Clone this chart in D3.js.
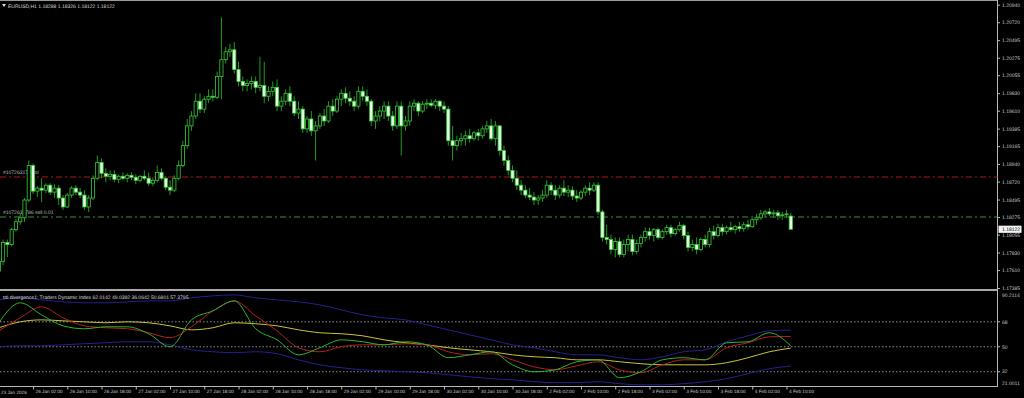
<!DOCTYPE html>
<html>
<head>
<meta charset="utf-8">
<script src="https://cdn.jsdelivr.net/npm/d3@7"></script>
<style>
html, body { margin: 0; padding: 0; background: #000; }
svg { display: block; }
text { font-family: "Liberation Sans", Arial, sans-serif; text-rendering: geometricPrecision; }
</style>
</head>
<body>
<div id="chart"></div>
<script>
// EURUSD H1 candles, [open, high, low, close]
var candles = [
[1.17596,1.17770,1.17547,1.17720],[1.17720,1.17993,1.17671,1.17956],[1.17956,1.17993,1.17770,1.17931],[1.17931,1.18142,1.17906,1.18117],
[1.18117,1.18253,1.18092,1.18216],[1.18216,1.18315,1.18179,1.18266],[1.18266,1.18514,1.18216,1.18489],[1.18489,1.18985,1.18464,1.18923],
[1.18923,1.18948,1.18563,1.18601],[1.18601,1.18663,1.18526,1.18638],[1.18638,1.18762,1.18464,1.18613],[1.18613,1.18700,1.18576,1.18675],
[1.18675,1.18700,1.18551,1.18588],[1.18588,1.18687,1.18514,1.18638],[1.18638,1.18675,1.18427,1.18514],[1.18514,1.18551,1.18365,1.18402],
[1.18402,1.18576,1.18390,1.18551],[1.18551,1.18663,1.18514,1.18638],[1.18638,1.18675,1.18551,1.18588],[1.18588,1.18638,1.18514,1.18551],
[1.18551,1.18613,1.18365,1.18402],[1.18402,1.18551,1.18340,1.18514],[1.18514,1.18799,1.18489,1.18762],[1.18762,1.19047,1.18737,1.18960],
[1.18960,1.19010,1.18762,1.18824],[1.18824,1.18886,1.18712,1.18787],[1.18787,1.18861,1.18737,1.18811],[1.18811,1.18861,1.18712,1.18749],
[1.18749,1.18811,1.18700,1.18787],[1.18787,1.18836,1.18737,1.18762],[1.18762,1.18824,1.18712,1.18799],[1.18799,1.18836,1.18737,1.18774],
[1.18774,1.18811,1.18687,1.18737],[1.18737,1.18799,1.18712,1.18787],[1.18787,1.18861,1.18737,1.18762],[1.18762,1.18836,1.18663,1.18700],
[1.18700,1.18774,1.18663,1.18737],[1.18737,1.18923,1.18712,1.18836],[1.18836,1.18886,1.18737,1.18762],[1.18762,1.18787,1.18613,1.18650],
[1.18650,1.18737,1.18551,1.18613],[1.18613,1.18799,1.18588,1.18762],[1.18762,1.18985,1.18737,1.18923],[1.18923,1.19233,1.18898,1.19171],
[1.19171,1.19506,1.19134,1.19419],[1.19419,1.19605,1.19357,1.19543],[1.19543,1.19828,1.19506,1.19729],[1.19729,1.19828,1.19580,1.19630],
[1.19630,1.19791,1.19580,1.19754],[1.19754,1.19878,1.19704,1.19791],[1.19791,1.19878,1.19729,1.19779],[1.19779,1.20101,1.19754,1.20039],
[1.20039,1.20783,1.19754,1.20250],[1.20250,1.20411,1.20200,1.20349],[1.20349,1.20448,1.20287,1.20374],[1.20374,1.20473,1.20076,1.20126],
[1.20126,1.20225,1.19915,1.19977],[1.19977,1.20039,1.19853,1.19927],[1.19927,1.20002,1.19853,1.19952],[1.19952,1.20039,1.19878,1.19977],
[1.19977,1.20039,1.19828,1.19903],[1.19903,1.20287,1.19853,1.19927],[1.19927,1.20225,1.19704,1.19791],[1.19791,1.19915,1.19729,1.19853],
[1.19853,1.19977,1.19791,1.19903],[1.19903,1.20002,1.19605,1.19667],[1.19667,1.19791,1.19605,1.19729],[1.19729,1.19878,1.19679,1.19828],
[1.19828,1.19915,1.19667,1.19729],[1.19729,1.19791,1.19543,1.19580],[1.19580,1.19729,1.19506,1.19630],[1.19630,1.19667,1.19332,1.19382],
[1.19382,1.19543,1.19332,1.19506],[1.19506,1.19605,1.19295,1.19357],[1.19357,1.19481,1.18985,1.19419],[1.19419,1.19580,1.19382,1.19543],
[1.19543,1.19630,1.19419,1.19481],[1.19481,1.19729,1.19456,1.19667],[1.19667,1.19754,1.19543,1.19605],[1.19605,1.19791,1.19580,1.19754],
[1.19754,1.19878,1.19667,1.19828],[1.19828,1.19903,1.19704,1.19766],[1.19766,1.19853,1.19667,1.19729],[1.19729,1.19791,1.19605,1.19667],
[1.19667,1.19915,1.19630,1.19853],[1.19853,1.19915,1.19729,1.19791],[1.19791,1.19878,1.19667,1.19729],[1.19729,1.19754,1.19419,1.19481],
[1.19481,1.19605,1.19382,1.19543],[1.19543,1.19667,1.19481,1.19605],[1.19605,1.19729,1.19506,1.19667],[1.19667,1.19729,1.19481,1.19543],
[1.19543,1.19605,1.19357,1.19419],[1.19419,1.19729,1.19382,1.19667],[1.19667,1.19729,1.19047,1.19419],[1.19419,1.19543,1.19357,1.19481],
[1.19481,1.19729,1.19419,1.19667],[1.19667,1.19754,1.19605,1.19704],[1.19704,1.19729,1.19543,1.19605],[1.19605,1.19729,1.19580,1.19692],
[1.19692,1.19754,1.19630,1.19704],[1.19704,1.19754,1.19655,1.19679],[1.19679,1.19754,1.19630,1.19729],[1.19729,1.19741,1.19605,1.19667],
[1.19667,1.19729,1.19580,1.19630],[1.19630,1.19667,1.19171,1.19233],[1.19233,1.19419,1.18985,1.19171],[1.19171,1.19295,1.19109,1.19233],
[1.19233,1.19332,1.19171,1.19258],[1.19258,1.19357,1.19171,1.19295],[1.19295,1.19382,1.19208,1.19258],[1.19258,1.19357,1.19233,1.19332],
[1.19332,1.19382,1.19233,1.19295],[1.19295,1.19419,1.19258,1.19382],[1.19382,1.19481,1.19332,1.19419],[1.19419,1.19506,1.19233,1.19258],
[1.19258,1.19481,1.19171,1.19419],[1.19419,1.19431,1.19047,1.19109],[1.19109,1.19171,1.18923,1.18985],[1.18985,1.19047,1.18799,1.18861],
[1.18861,1.18923,1.18712,1.18762],[1.18762,1.18861,1.18613,1.18675],[1.18675,1.18737,1.18551,1.18613],[1.18613,1.18675,1.18514,1.18551],
[1.18551,1.18638,1.18489,1.18526],[1.18526,1.18588,1.18427,1.18489],[1.18489,1.18551,1.18427,1.18514],[1.18514,1.18613,1.18464,1.18551],
[1.18551,1.18737,1.18514,1.18675],[1.18675,1.18712,1.18551,1.18613],[1.18613,1.18675,1.18489,1.18551],[1.18551,1.18675,1.18514,1.18638],
[1.18638,1.18737,1.18539,1.18588],[1.18588,1.18675,1.18526,1.18613],[1.18613,1.18663,1.18489,1.18539],[1.18539,1.18613,1.18464,1.18514],
[1.18514,1.18613,1.18489,1.18588],[1.18588,1.18675,1.18539,1.18638],[1.18638,1.18712,1.18551,1.18613],[1.18613,1.18712,1.18588,1.18675],
[1.18675,1.18712,1.18303,1.18340],[1.18340,1.18365,1.17968,1.18018],[1.18018,1.18179,1.17931,1.17993],[1.17993,1.18055,1.17807,1.17869],
[1.17869,1.18018,1.17770,1.17968],[1.17968,1.18018,1.17770,1.17807],[1.17807,1.17993,1.17770,1.17931],[1.17931,1.18055,1.17844,1.17993],
[1.17993,1.18055,1.17795,1.17844],[1.17844,1.17993,1.17807,1.17943],[1.17943,1.18055,1.17894,1.18018],[1.18018,1.18142,1.17968,1.18092],
[1.18092,1.18142,1.17993,1.18043],[1.18043,1.18142,1.17968,1.18117],[1.18117,1.18142,1.17993,1.18018],[1.18018,1.18117,1.17993,1.18092],
[1.18092,1.18179,1.18055,1.18142],[1.18142,1.18179,1.18018,1.18067],[1.18067,1.18142,1.18043,1.18117],[1.18117,1.18216,1.18092,1.18167],
[1.18167,1.18191,1.17993,1.18043],[1.18043,1.18092,1.17844,1.17894],[1.17894,1.17993,1.17844,1.17931],[1.17931,1.18018,1.17807,1.17869],
[1.17869,1.18018,1.17844,1.17993],[1.17993,1.18055,1.17894,1.17931],[1.17931,1.18142,1.17894,1.18092],[1.18092,1.18167,1.17993,1.18043],
[1.18043,1.18191,1.18018,1.18142],[1.18142,1.18191,1.18043,1.18092],[1.18092,1.18167,1.18055,1.18142],[1.18142,1.18216,1.18092,1.18117],
[1.18117,1.18179,1.18067,1.18154],[1.18154,1.18216,1.18092,1.18129],[1.18129,1.18216,1.18092,1.18179],[1.18179,1.18241,1.18117,1.18154],
[1.18154,1.18266,1.18142,1.18241],[1.18241,1.18315,1.18179,1.18266],[1.18266,1.18365,1.18241,1.18315],[1.18315,1.18365,1.18266,1.18340],
[1.18340,1.18390,1.18291,1.18315],[1.18315,1.18365,1.18266,1.18328],[1.18328,1.18365,1.18241,1.18291],[1.18291,1.18340,1.18241,1.18303],
[1.18303,1.18365,1.18266,1.18315],[1.18288,1.18326,1.18122,1.18122]
];

// Traders Dynamic Index, one reading every tdiStep bars (last one is the last bar)
var tdiStep = 5;
var tdiUpper = [83.8,85.3,83.8,82.4,81.7,81.7,82.4,83.1,83.1,85.3,86.7,87.4,85.3,83.8,82.4,80.2,76.6,73.0,70.9,69.4,65.8,62.2,58.6,55.0,51.4,49.3,46.4,44.2,44.2,42.1,40.6,42.8,46.4,47.8,53.6,57.9,61.5,62.01];
var tdiBase  = [63.7,68.0,69.4,68.7,68.0,67.3,68.0,67.3,65.1,62.2,63.7,67.3,66.6,65.1,62.2,60.1,59.4,57.9,55.0,52.9,51.4,49.3,47.8,46.4,44.2,42.8,42.1,40.6,40.6,39.2,37.8,37.0,37.0,37.0,38.5,42.1,46.4,49.04];
var tdiLower = [50.0,50.7,50.7,51.4,52.2,52.9,53.6,53.6,51.4,47.8,46.4,45.7,46.4,45.0,40.6,37.0,34.9,33.4,32.7,32.0,31.3,29.8,28.4,27.0,26.2,24.8,24.1,24.1,24.8,23.4,22.6,22.6,23.4,24.8,27.0,30.6,34.2,36.06];
var tdiPrice = [67.3,81.7,73.0,65.1,63.0,64.4,64.4,59.4,50.0,69.4,75.9,83.1,63.0,55.0,44.2,49.3,55.0,53.6,51.4,53.6,51.4,42.1,44.2,46.4,37.0,32.0,33.4,39.2,40.6,27.7,32.0,40.6,42.1,40.6,52.9,53.6,60.1,50.68];
var tdiSignal = [61.5,70.9,78.8,70.9,65.1,63.7,63.0,60.1,56.5,64.4,75.9,83.1,72.3,61.5,49.3,46.4,50.0,51.4,51.4,52.2,51.4,46.4,44.2,45.0,40.6,35.6,33.4,36.3,39.2,33.4,31.3,37.0,40.6,40.6,49.3,52.9,57.2,57.38];

var priceTicks = [1.20940,1.20720,1.20495,1.20275,1.20055,1.19830,1.19610,1.19385,1.19165,1.18940,1.18720,1.18495,1.18275,1.18055,1.17830,1.17610,1.17385];
var tdiLevels = [68, 50, 32];
var tdiMin = 21.0011, tdiMax = 90.2114;
var timeLabels = ["26 Jan 02:00","26 Jan 10:00","26 Jan 18:00","27 Jan 02:00","27 Jan 10:00","27 Jan 18:00",
    "28 Jan 02:00","28 Jan 10:00","28 Jan 18:00","29 Jan 02:00","29 Jan 10:00","29 Jan 18:00",
    "30 Jan 02:00","30 Jan 10:00","30 Jan 18:00","2 Feb 02:00","2 Feb 10:00","2 Feb 18:00",
    "3 Feb 02:00","3 Feb 10:00","3 Feb 18:00","4 Feb 02:00","4 Feb 10:00"];
var firstLabel = "23 Jan 2026";
var firstTickBar = 8, barsPerLabel = 8;

var slPrice = 1.18778, entryPrice = 1.18276;
var header = "EURUSD,H1  1.18288 1.18326 1.18122 1.18122";
var tdiHeader = "tdi divergence1: Traders Dynamic Index 62.0142 49.0392 36.0642 50.6801 57.3795";

var W = 1024, H = 398;
var axisX = 997.5;
var fontSize = 5;
var timeFont = 4.7;

var svg = d3.select("#chart").append("svg").attr("width", W).attr("height", H);
svg.append("rect").attr("width", W).attr("height", H).attr("fill", "#000");

var n = candles.length;
var x = d3.scaleLinear().domain([0, n - 1]).range([-1.2, -1.2 + 4.281 * (n - 1)]);
var y = d3.scaleLinear().domain([1.17385, 1.20940]).range([288, 4.7]);
var ty = d3.scaleLinear().domain([tdiMin, tdiMax]).range([387, 291]);

// frame
svg.append("line").attr("x1", 0).attr("x2", axisX).attr("y1", 0.5).attr("y2", 0.5).attr("stroke", "#9a9a9a");
svg.append("line").attr("x1", axisX).attr("x2", axisX).attr("y1", 0).attr("y2", 387).attr("stroke", "#b8b8b8");
svg.append("rect").attr("x", 0).attr("y", 289).attr("width", axisX).attr("height", 2).attr("fill", "#a8a8a8");
svg.append("line").attr("x1", 0).attr("x2", axisX).attr("y1", 386.5).attr("y2", 386.5).attr("stroke", "#b8b8b8");

// order lines and their labels (drawn under the candles)
var main = svg.append("g");
main.append("line").attr("x1", 0).attr("x2", axisX).attr("y1", y(slPrice)).attr("y2", y(slPrice))
    .attr("stroke", "#b01818").attr("stroke-dasharray", "6,3,2,3");
main.append("line").attr("x1", 0).attr("x2", axisX).attr("y1", y(entryPrice)).attr("y2", y(entryPrice))
    .attr("stroke", "#3f8f3f").attr("stroke-dasharray", "6,3,2,3");
main.append("text").attr("x", 3).attr("y", y(slPrice) - 2.5).attr("fill", "#bdbdbd").attr("font-size", fontSize).text("#1072631786 sl");
main.append("text").attr("x", 3).attr("y", y(entryPrice) - 2.5).attr("fill", "#bdbdbd").attr("font-size", fontSize).text("#1072631786 sell 0.01");

// candles
var cdata = candles.map(function(c, i) { return {i: i, o: c[0], h: c[1], l: c[2], c: c[3]}; });
var cg = main.append("g").selectAll("g").data(cdata).join("g");
cg.append("line")
    .attr("x1", d => x(d.i)).attr("x2", d => x(d.i))
    .attr("y1", d => y(d.h)).attr("y2", d => y(d.l))
    .attr("stroke", "#1f9a1f").attr("stroke-width", 1);
cg.append("rect")
    .attr("x", d => x(d.i) - 1.6).attr("width", 3.2)
    .attr("y", d => y(Math.max(d.o, d.c)))
    .attr("height", d => Math.max(0.6, Math.abs(y(d.o) - y(d.c))))
    .attr("fill", d => d.c >= d.o ? "#000" : "#e4ffe4")
    .attr("stroke", "#3acb3a").attr("stroke-width", 0.8);

// header
svg.append("path").attr("d", "M2,4 L6,4 L4,7 Z").attr("fill", "#e0e0e0");
svg.append("text").attr("x", 8).attr("y", 7.5).attr("fill", "#dcdcdc").attr("font-size", fontSize).text(header);

// price axis
var yAxis = d3.axisRight(y).tickValues(priceTicks).tickSize(2.5).tickFormat(d3.format(".5f"));
var ya = svg.append("g").attr("transform", "translate(" + axisX + ",0)").call(yAxis);
ya.select(".domain").remove();
ya.selectAll("line").attr("stroke", "#b8b8b8");
ya.selectAll("text").attr("x", 4.5).attr("fill", "#c8c8c8").attr("font-size", fontSize).attr("font-family", null);

// current price box
var last = candles[n - 1][3];
svg.append("rect").attr("x", axisX + 1).attr("y", y(last) - 3.6).attr("width", 23).attr("height", 7.2).attr("fill", "#f4f4f4");
svg.append("text").attr("x", axisX + 4.5).attr("y", y(last)).attr("dy", "0.35em").attr("fill", "#000").attr("font-size", fontSize)
    .text(d3.format(".5f")(last));

// indicator panel
var ind = svg.append("g");
ind.selectAll(".lvl").data(tdiLevels).join("line").attr("class", "lvl")
    .attr("x1", 0).attr("x2", axisX).attr("y1", d => ty(d)).attr("y2", d => ty(d))
    .attr("stroke", "#8c8c8c").attr("stroke-dasharray", "1.5,2");

function tdiLine(vals) {
    return d3.line()
        .x(function(d, i) { return x(Math.min(i * tdiStep, n - 1)); })
        .y(function(d) { return ty(d); })
        .curve(d3.curveMonotoneX)(vals);
}
var series = [
    {v: tdiUpper, c: "#22228e"},
    {v: tdiLower, c: "#22228e"},
    {v: tdiBase, c: "#c9c43a"},
    {v: tdiSignal, c: "#b82020"},
    {v: tdiPrice, c: "#2fb52f"}
];
ind.selectAll(".tdi").data(series).join("path").attr("class", "tdi")
    .attr("d", d => tdiLine(d.v)).attr("fill", "none").attr("stroke", d => d.c).attr("stroke-width", 1);

ind.append("text").attr("x", 3).attr("y", 298.5).attr("fill", "#dcdcdc").attr("font-size", fontSize).text(tdiHeader);

var tdiLabels = [{v: tdiMax, t: "90.2114", yy: 295}].concat(
    tdiLevels.map(v => ({v: v, t: String(v), yy: ty(v)})),
    [{v: tdiMin, t: "21.0011", yy: 383.5}]);
ind.selectAll(".tl").data(tdiLabels).join("text").attr("class", "tl")
    .attr("x", axisX + 4.5).attr("y", d => d.yy).attr("dy", "0.35em")
    .attr("fill", "#c8c8c8").attr("font-size", fontSize).text(d => d.t);
ind.selectAll(".tt").data(tdiLevels).join("line").attr("class", "tt")
    .attr("x1", axisX).attr("x2", axisX + 2.5).attr("y1", d => ty(d)).attr("y2", d => ty(d)).attr("stroke", "#b8b8b8");

// time axis
var tickBars = timeLabels.map((t, k) => firstTickBar + k * barsPerLabel);
var xAxis = d3.axisBottom(x).tickValues(tickBars).tickSize(3)
    .tickFormat((d, k) => timeLabels[k]);
var xa = svg.append("g").attr("transform", "translate(0,386.5)").call(xAxis);
xa.select(".domain").remove();
xa.selectAll("line").attr("stroke", "#b8b8b8");
xa.selectAll("text").attr("text-anchor", "start").attr("x", 2).attr("y", 3)
    .attr("fill", "#c8c8c8").attr("font-size", timeFont).attr("font-family", null);
svg.append("text").attr("x", 1).attr("y", 393.5).attr("fill", "#c8c8c8").attr("font-size", timeFont).text(firstLabel);
</script>
</body>
</html>
